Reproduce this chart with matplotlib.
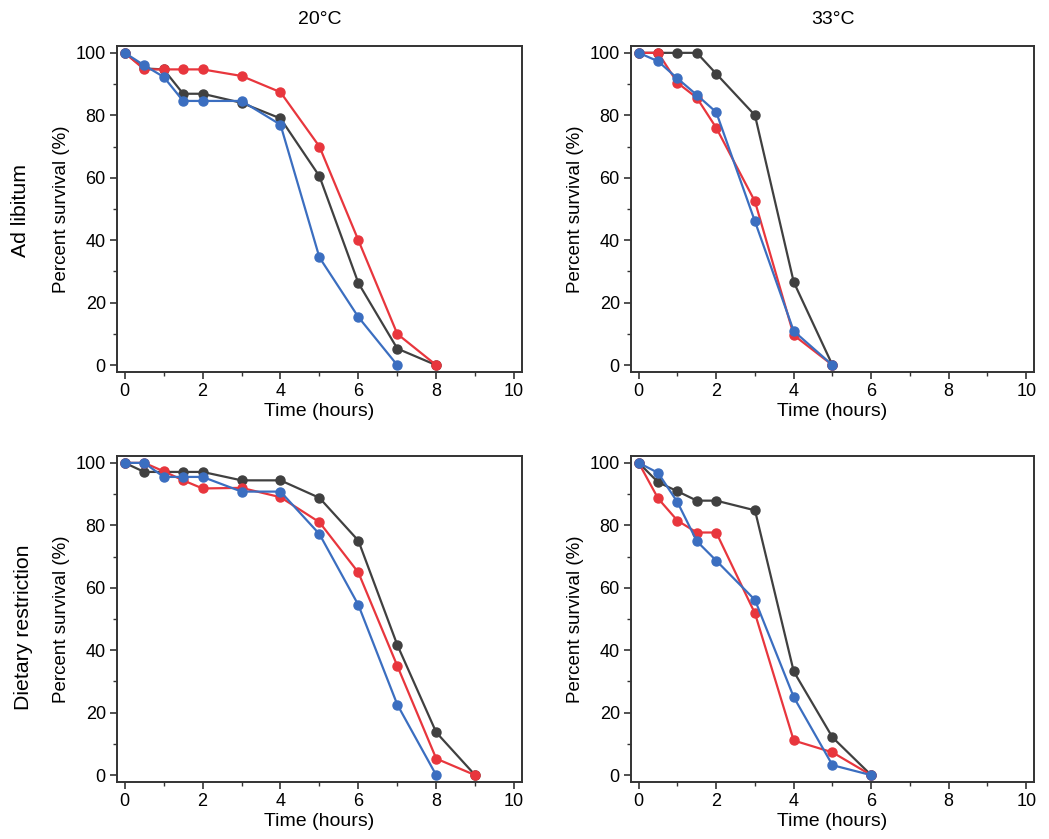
import matplotlib
matplotlib.use('Agg')
import matplotlib.pyplot as plt
from matplotlib.ticker import MultipleLocator

plt.rcParams['font.family'] = ['Liberation Sans', 'DejaVu Sans']

# Ad libitum, 20°C
al20_t_black = [0, 0.5, 1, 1.5, 2, 3, 4, 5, 6, 7, 8]
al20_black = [100, 95, 94.7, 86.9, 86.9, 84, 79, 60.5, 26.3, 5.3, 0]
al20_t_red = [0, 0.5, 1, 1.5, 2, 3, 4, 5, 6, 7, 8]
al20_red = [100, 94.7, 94.7, 94.7, 94.7, 92.6, 87.4, 70, 40, 10, 0]
al20_t_blue = [0, 0.5, 1, 1.5, 2, 3, 4, 5, 6, 7]
al20_blue = [100, 96, 92.3, 84.6, 84.6, 84.6, 77, 34.5, 15.4, 0]

# Ad libitum, 33°C
al33_t = [0, 0.5, 1, 1.5, 2, 3, 4, 5]
al33_black = [100, 100, 100, 100, 93.3, 80, 26.6, 0]
al33_red = [100, 100, 90.4, 85.6, 76, 52.4, 9.6, 0]
al33_blue = [100, 97.3, 91.8, 86.5, 81, 46, 10.9, 0]

# Dietary restriction, 20°C
dr20_t_black = [0, 0.5, 1, 1.5, 2, 3, 4, 5, 6, 7, 8, 9]
dr20_black = [100, 97.1, 97.1, 97.1, 97.1, 94.4, 94.4, 88.8, 75.1, 41.7, 13.7, 0]
dr20_t_red = [0, 0.5, 1, 1.5, 2, 3, 4, 5, 6, 7, 8, 9]
dr20_red = [100, 100, 97.3, 94.4, 91.8, 92, 89, 81, 64.9, 35, 5.3, 0]
dr20_t_blue = [0, 0.5, 1, 1.5, 2, 3, 4, 5, 6, 7, 8]
dr20_blue = [100, 100, 95.5, 95.5, 95.5, 90.8, 90.8, 77.2, 54.5, 22.6, 0]

# Dietary restriction, 33°C
dr33_t = [0, 0.5, 1, 1.5, 2, 3, 4, 5, 6]
dr33_black = [100, 93.8, 90.9, 87.9, 87.9, 84.8, 33.2, 12.1, 0]
dr33_red = [100, 88.6, 81.5, 77.7, 77.7, 51.8, 11.1, 7.3, 0]
dr33_blue = [100, 96.8, 87.4, 74.9, 68.7, 56.1, 25, 3.2, 0]

col_titles = ['20°C', '33°C']
row_labels = ['Ad libitum', 'Dietary restriction']

BLACK = '#404040'
RED = '#e8363d'
BLUE = '#3b6ec0'

panels = [
    [(al20_t_black, al20_black), (al20_t_red, al20_red), (al20_t_blue, al20_blue)],
    [(al33_t, al33_black), (al33_t, al33_red), (al33_t, al33_blue)],
    [(dr20_t_black, dr20_black), (dr20_t_red, dr20_red), (dr20_t_blue, dr20_blue)],
    [(dr33_t, dr33_black), (dr33_t, dr33_red), (dr33_t, dr33_blue)],
]

fig = plt.figure(figsize=(10.49, 8.39), dpi=100, facecolor='white')

lefts = [0.1115, 0.6015]
widths = [0.386, 0.3842]
bottoms = [0.5566, 0.0679]
height = 0.3886

for i, series in enumerate(panels):
    r, c = divmod(i, 2)
    ax = fig.add_axes([lefts[c], bottoms[r], widths[c], height])
    for (t, v), col in zip(series, [BLACK, RED, BLUE]):
        ax.plot(t, v, '-o', color=col, linewidth=1.6, markersize=6.5)

    ax.set_xlim(-0.2, 10.2)
    ax.set_ylim(-2.2, 102.2)
    ax.xaxis.set_major_locator(MultipleLocator(2))
    ax.xaxis.set_minor_locator(MultipleLocator(1))
    ax.yaxis.set_major_locator(MultipleLocator(20))
    ax.yaxis.set_minor_locator(MultipleLocator(10))
    ax.tick_params(which='major', direction='out', length=5, width=1.2,
                   labelsize=13, color='#333333', pad=3)
    ax.tick_params(which='minor', direction='out', length=3, width=1.0,
                   color='#333333')
    for sp in ax.spines.values():
        sp.set_linewidth(1.4)
        sp.set_color('#333333')

    ax.set_xlabel('Time (hours)', fontsize=14, labelpad=2)
    ax.set_ylabel('Percent survival (%)', fontsize=13.5, labelpad=4)

    if r == 0:
        ax.set_title(col_titles[c], fontsize=14, pad=16)

fig.text(0.020, 0.7497, row_labels[0], rotation=90,
         ha='center', va='center', fontsize=15.3)
fig.text(0.022, 0.2527, row_labels[1], rotation=90,
         ha='center', va='center', fontsize=15.3)

plt.savefig('out.png', dpi=100, facecolor='white')
plt.close()
